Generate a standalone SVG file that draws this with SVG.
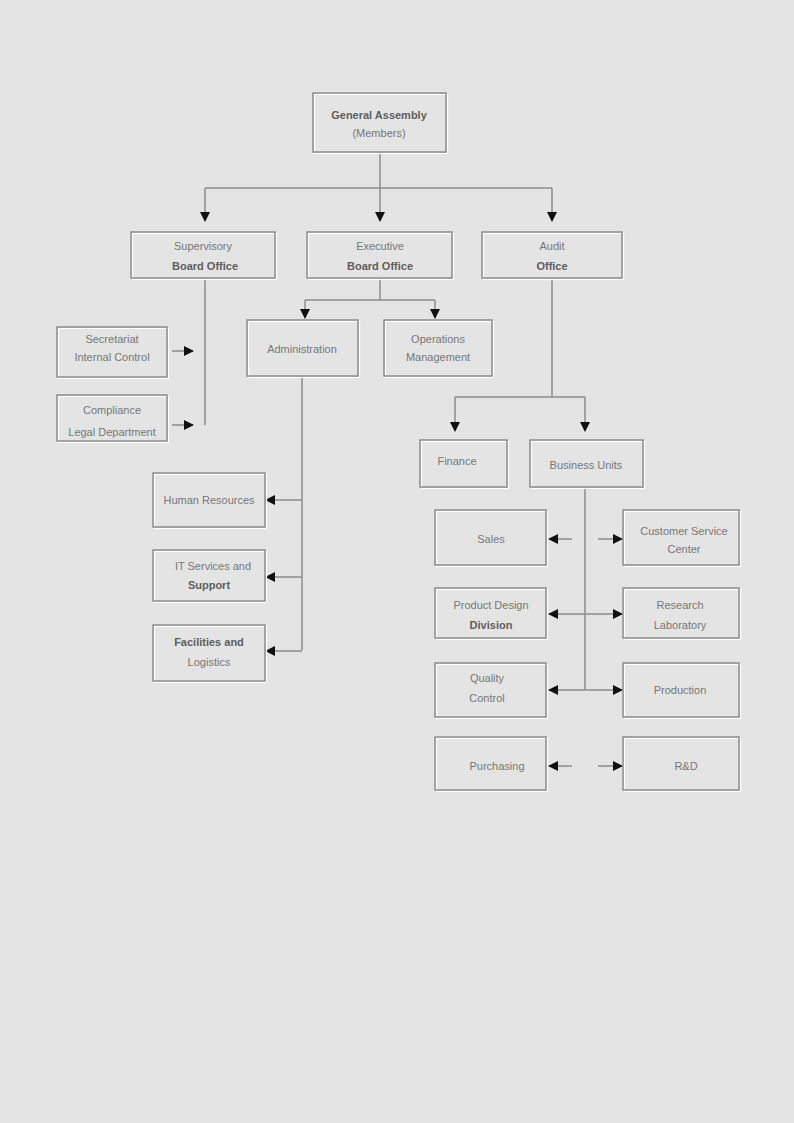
<svg xmlns="http://www.w3.org/2000/svg" width="794" height="1123" viewBox="0 0 794 1123">
  <style>
    .bg { fill: #e4e4e4; }
    .box { fill: none; stroke: #8c8c8c; stroke-width: 1.5; }
    .hl { fill: none; stroke: #ffffff; stroke-width: 1.2; }
    .wire { fill: none; stroke: #8c8c8c; stroke-width: 1.5; }
    .lbl { font-family: "Liberation Sans", Arial, sans-serif; font-size: 11px; fill: #777777; text-anchor: middle; }
    .lbl-d { font-family: "Liberation Sans", Arial, sans-serif; font-size: 11px; fill: #5e5e5e; text-anchor: middle; font-weight: bold; }
  </style>
  <defs>
    <marker id="arrow" viewBox="0 0 10 10" refX="9" refY="5" markerWidth="10" markerHeight="10" orient="auto" markerUnits="userSpaceOnUse">
      <path d="M0,0 L10,5 L0,10 z" fill="#111111"/>
    </marker>
  </defs>

  <rect class="bg" x="0" y="0" width="794" height="1123"/>

  <!-- connectors -->
  <g id="connectors">
    <path class="wire" d="M380,152 V188 M205,188 H552"/>
    <path class="wire" d="M205,188 V221" marker-end="url(#arrow)"/>
    <path class="wire" d="M380,188 V221" marker-end="url(#arrow)"/>
    <path class="wire" d="M552,188 V221" marker-end="url(#arrow)"/>

    <path class="wire" d="M205,278 V425"/>
    <path class="wire" d="M172,351 H193" marker-end="url(#arrow)"/>
    <path class="wire" d="M172,425 H193" marker-end="url(#arrow)"/>

    <path class="wire" d="M380,278 V300 M305,300 H435"/>
    <path class="wire" d="M305,300 V318" marker-end="url(#arrow)"/>
    <path class="wire" d="M435,300 V318" marker-end="url(#arrow)"/>

    <path class="wire" d="M302,376 V650"/>
    <path class="wire" d="M302,500 H266" marker-end="url(#arrow)"/>
    <path class="wire" d="M302,577 H266" marker-end="url(#arrow)"/>
    <path class="wire" d="M302,651 H266" marker-end="url(#arrow)"/>

    <path class="wire" d="M552,278 V397 M455,397 H585"/>
    <path class="wire" d="M455,397 V431" marker-end="url(#arrow)"/>
    <path class="wire" d="M585,397 V431" marker-end="url(#arrow)"/>

    <path class="wire" d="M585,488 V690"/>
    <path class="wire" d="M572,539 H549" marker-end="url(#arrow)"/>
    <path class="wire" d="M598,539 H622" marker-end="url(#arrow)"/>
    <path class="wire" d="M585,614 H549" marker-end="url(#arrow)"/>
    <path class="wire" d="M585,614 H622" marker-end="url(#arrow)"/>
    <path class="wire" d="M585,690 H549" marker-end="url(#arrow)"/>
    <path class="wire" d="M585,690 H622" marker-end="url(#arrow)"/>
    <path class="wire" d="M572,766 H549" marker-end="url(#arrow)"/>
    <path class="wire" d="M598,766 H622" marker-end="url(#arrow)"/>
  </g>

  <!-- root -->
  <g id="n-root">
    <rect class="hl" x="314.5" y="94.5" width="133" height="59"/>
    <rect class="box" x="313" y="93" width="133" height="59"/>
    <text class="lbl-d" x="379" y="119">General Assembly</text>
    <text class="lbl" x="379" y="137">(Members)</text>
  </g>

  <!-- second row -->
  <g id="n-a">
    <rect class="hl" x="132.5" y="233.5" width="144" height="46"/>
    <rect class="box" x="131" y="232" width="144" height="46"/>
    <text class="lbl" x="203" y="250">Supervisory</text>
    <text class="lbl-d" x="205" y="270">Board Office</text>
  </g>
  <g id="n-b">
    <rect class="hl" x="308.5" y="233.5" width="145" height="46"/>
    <rect class="box" x="307" y="232" width="145" height="46"/>
    <text class="lbl" x="380" y="250">Executive</text>
    <text class="lbl-d" x="380" y="270">Board Office</text>
  </g>
  <g id="n-c">
    <rect class="hl" x="483.5" y="233.5" width="140" height="46"/>
    <rect class="box" x="482" y="232" width="140" height="46"/>
    <text class="lbl" x="552" y="250">Audit</text>
    <text class="lbl-d" x="552" y="270">Office</text>
  </g>

  <!-- left branch -->
  <g id="n-a1">
    <rect class="hl" x="58.5" y="328.5" width="110" height="50"/>
    <rect class="box" x="57" y="327" width="110" height="50"/>
    <text class="lbl" x="112" y="343">Secretariat</text>
    <text class="lbl" x="112" y="361">Internal Control</text>
  </g>
  <g id="n-a2">
    <rect class="hl" x="58.5" y="396.5" width="110" height="46"/>
    <rect class="box" x="57" y="395" width="110" height="46"/>
    <text class="lbl" x="112" y="414">Compliance</text>
    <text class="lbl" x="112" y="436">Legal Department</text>
  </g>

  <!-- middle branch -->
  <g id="n-b1">
    <rect class="hl" x="248.5" y="321.5" width="111" height="56"/>
    <rect class="box" x="247" y="320" width="111" height="56"/>
    <text class="lbl" x="302" y="353">Administration</text>
  </g>
  <g id="n-b2">
    <rect class="hl" x="385.5" y="321.5" width="108" height="56"/>
    <rect class="box" x="384" y="320" width="108" height="56"/>
    <text class="lbl" x="438" y="343">Operations</text>
    <text class="lbl" x="438" y="361">Management</text>
  </g>

  <g id="n-b1a">
    <rect class="hl" x="154.5" y="474.5" width="112" height="54"/>
    <rect class="box" x="153" y="473" width="112" height="54"/>
    <text class="lbl" x="209" y="504">Human Resources</text>
  </g>
  <g id="n-b1b">
    <rect class="hl" x="154.5" y="551.5" width="112" height="51"/>
    <rect class="box" x="153" y="550" width="112" height="51"/>
    <text class="lbl" x="213" y="570">IT Services and</text>
    <text class="lbl-d" x="209" y="589">Support</text>
  </g>
  <g id="n-b1c">
    <rect class="hl" x="154.5" y="626.5" width="112" height="56"/>
    <rect class="box" x="153" y="625" width="112" height="56"/>
    <text class="lbl-d" x="209" y="646">Facilities and</text>
    <text class="lbl" x="209" y="666">Logistics</text>
  </g>

  <!-- right branch -->
  <g id="n-c1">
    <rect class="hl" x="421.5" y="441.5" width="87" height="47"/>
    <rect class="box" x="420" y="440" width="87" height="47"/>
    <text class="lbl" x="457" y="465">Finance</text>
  </g>
  <g id="n-c2">
    <rect class="hl" x="531.5" y="441.5" width="113" height="47"/>
    <rect class="box" x="530" y="440" width="113" height="47"/>
    <text class="lbl" x="586" y="469">Business Units</text>
  </g>

  <g id="n-c2a">
    <rect class="hl" x="436.5" y="511.5" width="111" height="55"/>
    <rect class="box" x="435" y="510" width="111" height="55"/>
    <text class="lbl" x="491" y="543">Sales</text>
  </g>
  <g id="n-c2b">
    <rect class="hl" x="436.5" y="589.5" width="111" height="50"/>
    <rect class="box" x="435" y="588" width="111" height="50"/>
    <text class="lbl" x="491" y="609">Product Design</text>
    <text class="lbl-d" x="491" y="629">Division</text>
  </g>
  <g id="n-c2c">
    <rect class="hl" x="436.5" y="664.5" width="111" height="54"/>
    <rect class="box" x="435" y="663" width="111" height="54"/>
    <text class="lbl" x="487" y="682">Quality</text>
    <text class="lbl" x="487" y="702">Control</text>
  </g>
  <g id="n-c2d">
    <rect class="hl" x="436.5" y="738.5" width="111" height="53"/>
    <rect class="box" x="435" y="737" width="111" height="53"/>
    <text class="lbl" x="497" y="770">Purchasing</text>
  </g>

  <g id="n-c2e">
    <rect class="hl" x="624.5" y="511.5" width="116" height="55"/>
    <rect class="box" x="623" y="510" width="116" height="55"/>
    <text class="lbl" x="684" y="535">Customer Service</text>
    <text class="lbl" x="684" y="553">Center</text>
  </g>
  <g id="n-c2f">
    <rect class="hl" x="624.5" y="589.5" width="116" height="50"/>
    <rect class="box" x="623" y="588" width="116" height="50"/>
    <text class="lbl" x="680" y="609">Research</text>
    <text class="lbl" x="680" y="629">Laboratory</text>
  </g>
  <g id="n-c2g">
    <rect class="hl" x="624.5" y="664.5" width="116" height="54"/>
    <rect class="box" x="623" y="663" width="116" height="54"/>
    <text class="lbl" x="680" y="694">Production</text>
  </g>
  <g id="n-c2h">
    <rect class="hl" x="624.5" y="738.5" width="116" height="53"/>
    <rect class="box" x="623" y="737" width="116" height="53"/>
    <text class="lbl" x="686" y="770">R&amp;D</text>
  </g>
</svg>
